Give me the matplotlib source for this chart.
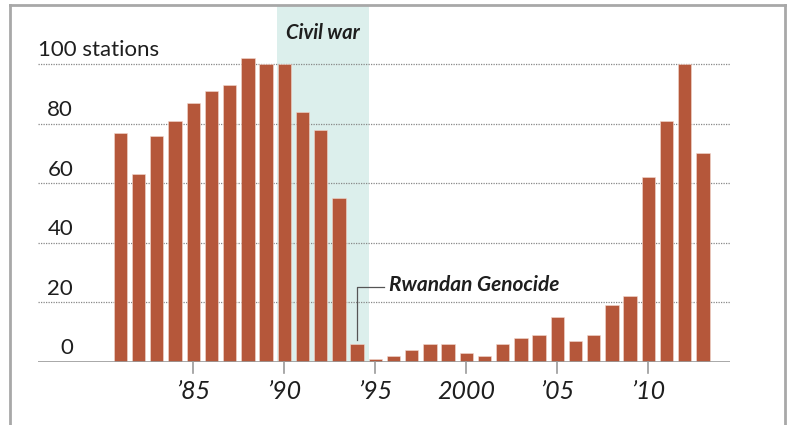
import matplotlib
matplotlib.use("Agg")
import matplotlib.pyplot as plt
from matplotlib.lines import Line2D

plt.rcParams['font.family'] = ['Lato', 'DejaVu Sans']

years = list(range(1981, 2014))
stations = [77, 63, 76, 81, 87, 91, 93, 102, 100, 100, 84, 78, 55,
            6, 1, 2, 4, 6, 6, 3, 2, 6, 8, 9, 15, 7, 9, 19, 22,
            62, 81, 100, 70]
yticks = [0, 20, 40, 60, 80, 100]
ytick_labels = ["0", "20", "40", "60", "80", "100 stations"]
xticks = [1985, 1990, 1995, 2000, 2005, 2010]
xtick_labels = ["\u201985", "\u201990", "\u201995", "2000", "\u201905", "\u201910"]
civil_war = (1989.58, 1994.67)

BAR = "#b5573a"
SHADE = "#dcefec"
TEXT = "#1e1e1e"
GREY = "#9a9a9a"

W, H = 787, 425
fig = plt.figure(figsize=(W / 100, H / 100), dpi=100)
ax = fig.add_axes([38 / W, 63 / H, (730 - 38) / W, (362 - 5) / H])

ax.set_xlim(1976.47, 2014.49)
ax.set_ylim(0, 119.8)

ax.axvspan(*civil_war, color=SHADE, zorder=0, lw=0)
for y in yticks[1:]:
    ax.axhline(y, color="#888888", lw=0.9, ls=(0, (1, 1)), zorder=1)
ax.axhline(0, color=GREY, lw=1.2, zorder=3)

ax.bar(years, stations, width=0.73, color=BAR, edgecolor="#f3d9cf",
       linewidth=0.4, zorder=2)

for y, lab in zip(yticks, ytick_labels):
    if y == 100:
        ax.text(1976.47, y + 1.2, lab, ha="left", va="bottom", fontsize=16,
                color=TEXT)
    else:
        ax.text(1978.4, y + 1.2, lab, ha="right", va="bottom", fontsize=16,
                color=TEXT)

for x, lab in zip(xticks, xtick_labels):
    ax.plot([x, x], [0, -3.6], color=GREY, lw=1.2, clip_on=False, zorder=3)
    ax.text(x, -10, lab, ha="center", va="center", fontsize=18,
            style="italic", color=TEXT)

ax.text(sum(civil_war) / 2, 110.5, "Civil war", ha="center", va="center",
        fontsize=14.5, style="italic", weight="bold", color=TEXT)

# genocide callout
ax.plot([1994, 1994, 1995.5], [7.3, 25.2, 25.2], color="#555555", lw=0.9,
        zorder=3)
ax.text(1995.75, 25.8, "Rwandan Genocide", ha="left", va="center",
        fontsize=15, style="italic", weight="bold", color=TEXT)

for s in ax.spines.values():
    s.set_visible(False)
ax.set_xticks([])
ax.set_yticks([])

# outer frame
fc = "#a8a8a8"
fig.add_artist(Line2D([10 / W, 10 / W], [0, 1 - 5 / H], color=fc, lw=2))
fig.add_artist(Line2D([10 / W, 785 / W], [1 - 5 / H, 1 - 5 / H], color=fc, lw=2))
fig.add_artist(Line2D([785 / W, 785 / W], [0, 1 - 5 / H], color=fc, lw=2))

fig.savefig("out.png", dpi=100)
